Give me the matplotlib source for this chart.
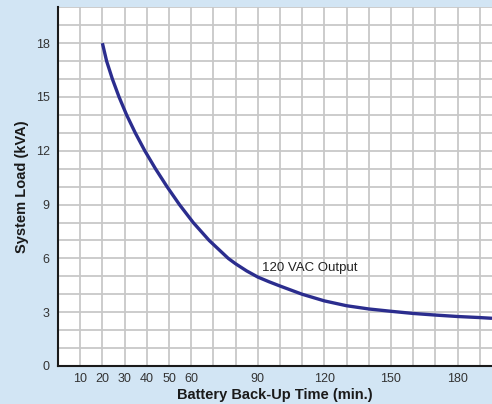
import matplotlib
matplotlib.use("Agg")
import matplotlib.pyplot as plt
import numpy as np

plt.rcParams['font.family'] = ['Liberation Sans Narrow', 'DejaVu Sans Condensed',
                               'Liberation Sans', 'DejaVu Sans']

# curve (minutes, kVA)
backup_min = [20, 21.9, 24.5, 27.5, 30.9, 34.8, 39.1, 43.9, 49.1, 54.7, 60.9,
              68.1, 76.7, 80, 85, 90, 95, 100, 110, 120, 130, 140, 150, 160,
              170, 180, 190, 195.5]
load_kva = [18, 17, 16, 15, 14, 13, 12, 11, 10, 9, 8,
            7, 6, 5.7, 5.3, 4.96, 4.7, 4.46, 4.0, 3.63, 3.36, 3.18, 3.05, 2.93,
            2.84, 2.76, 2.7, 2.66]

x_ticks = [10, 20, 30, 40, 50, 60, 90, 120, 150, 180]
y_ticks = [0, 3, 6, 9, 12, 15, 18]
curve_label = "120 VAC Output"

bg = '#d2e5f4'
fig = plt.figure(figsize=(4.92, 4.04), dpi=100, facecolor=bg)
ax = fig.add_axes([58/492, 38/404, 1 - 58/492, (366 - 7.3)/404])
ax.set_facecolor('white')

ax.set_xlim(0, 195.5)
ax.set_ylim(0, 20)
ax.set_xticks(np.arange(0, 200, 10), minor=True)
ax.set_yticks(np.arange(0, 21, 1), minor=True)
ax.set_xticks(x_ticks)
ax.set_yticks(y_ticks)
ax.grid(which='both', color='#c8c8c8', linewidth=1.3)
ax.set_axisbelow(True)
ax.tick_params(which='both', length=0, labelsize=9, labelcolor='#333333')
ax.tick_params(axis='y', pad=6)
ax.tick_params(axis='x', pad=5)

for s in ['top', 'right']:
    ax.spines[s].set_visible(False)
for s in ['left', 'bottom']:
    ax.spines[s].set_color('#1a1a1a')
    ax.spines[s].set_linewidth(1.5)

ax.plot(backup_min, load_kva, color='#2b2d8e', linewidth=2.4,
        solid_capstyle='butt', solid_joinstyle='round')
ax.text(91.9, 5.47, curve_label, fontsize=9.5, color='#222222', va='center', ha='left')

ax.set_xlabel('Battery Back-Up Time (min.)', fontsize=10.5, fontweight='bold',
              color='#1a1a1a', labelpad=2)
ax.set_ylabel('System Load (kVA)', fontsize=10.5, fontweight='bold',
              color='#1a1a1a', labelpad=5)

fig.savefig('out.png', dpi=100, facecolor=bg)
